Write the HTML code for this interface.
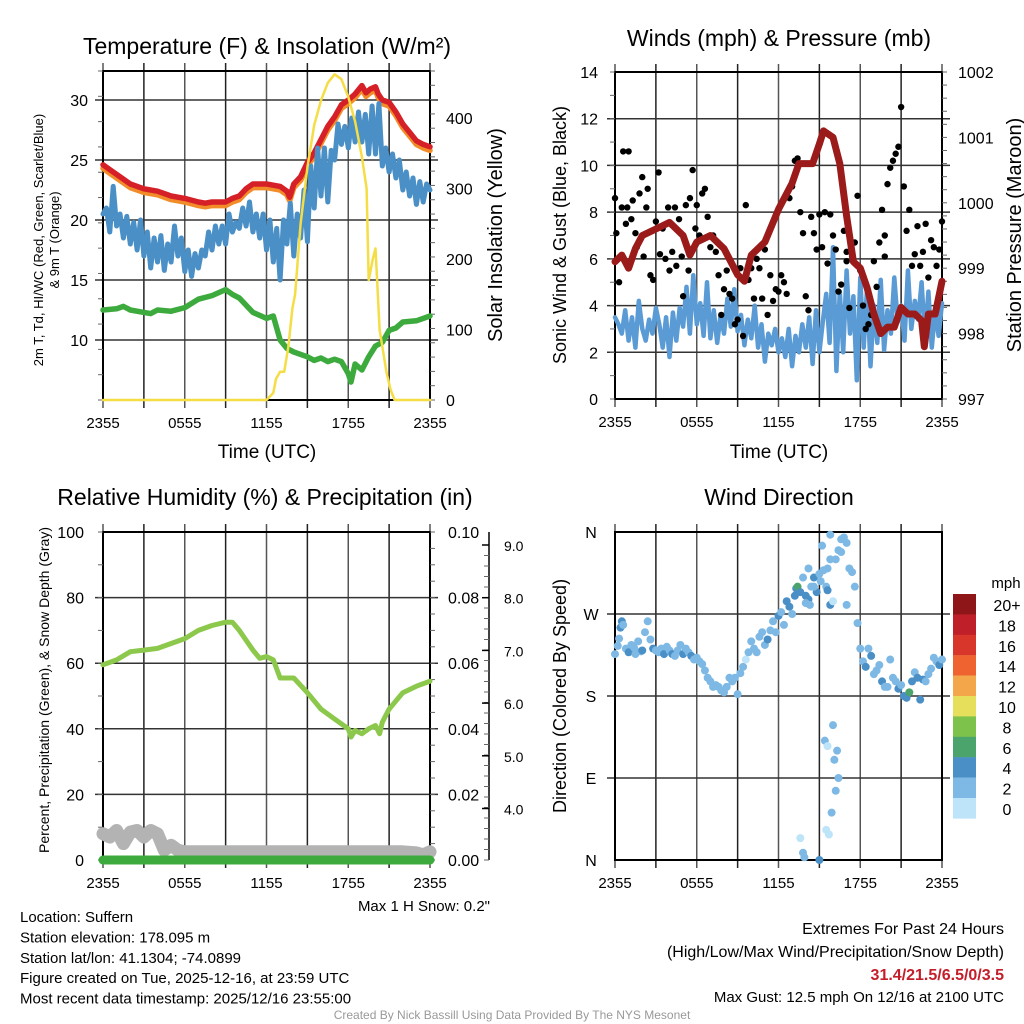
<!DOCTYPE html>
<html><head><meta charset="utf-8"><style>
body{margin:0;background:#fff}
svg{display:block;font-family:"Liberation Sans",Arial,sans-serif}
</style></head><body>
<svg id="s" width="1024" height="1024" viewBox="0 0 1024 1024"></svg>
<script>
// ---------- DATA ----------
const xTickLabels=["2355","0555","1155","1755","2355"];
const tempTickVals=[10,15,20,25,30];
const solarTickVals=[0,100,200,300,400];
const windTickVals=[0,2,4,6,8,10,12,14];
const presTickVals=[997,998,999,1000,1001,1002];
const rhTickVals=[0,20,40,60,80,100];
const precipTickLabels=["0.00","0.02","0.04","0.06","0.08","0.10"];
const snowTickVals=[4,5,6,7,8,9];
const dirTickLabels=["N","E","S","W","N"];
const cbarLabels=["20+","18","16","14","12","10","8","6","4","2","0"];
const cbarColors=["#8e1619","#bf1f29","#d8352b","#ee6330","#f4a64a","#e6df5b","#7cc24b","#4aa46b","#4a8fc6","#7db9e4","#bde4f8"];

const redT=[0,0.5,1,2,3,4,5,6,7,7.5,8,9,9.5,10,10.5,11,12,12.5,13,13.5,13.7,14,14.5,15,15.5,16,16.5,17,17.5,18,18.5,19,19.3,19.6,20,20.2,20.5,21,21.5,22,22.5,23,23.5,24];
const redV=[24.6,24.2,23.8,23.0,22.6,22.4,22.0,21.8,21.5,21.4,21.5,21.5,21.8,22.0,22.6,23.0,23.0,22.9,22.8,22.4,21.9,23.0,23.6,24.8,25.6,26.7,27.8,28.6,29.6,30.0,30.5,31.2,30.6,30.9,31.1,30.5,30.0,29.8,29.0,28.0,27.3,26.6,26.3,26.1];
const blueV=[20.5,21,19,22.8,19.5,20.5,18.5,20.3,18,19.8,17.5,20,17,19,16,18.5,16.5,18.7,15.8,18,16.5,19.5,17,18.5,15.7,17.5,15.3,17.2,16,17.5,17,19,17.5,19.5,18,19.5,18,20.5,19,19.8,19.3,21,19.5,21.5,19,20.5,18.5,20.5,17.5,20,16.5,19.3,15,20,18,21.4,17,20.5,18.5,22.5,18.2,24.5,21,26,22,26,21.5,25.8,25,28,26.3,27.8,26,28.5,26.5,29,26.5,28.8,25.5,29.5,25.5,29.7,24.5,26,24,25.5,23.5,25,22.5,24,22,23.5,21.3,23.2,21.5,23,22.5];
const dewT=[0,1,1.5,2,3,3.5,4,5,6,7,8,9,9.5,10,11,12,12.5,13,13.5,14,15,15.5,16,16.5,17,17.5,18,18.2,18.5,19,19.5,20,20.5,21,21.5,22,23,24];
const dewV=[12.5,12.6,12.8,12.5,12.3,12.2,12.5,12.4,12.7,13.4,13.7,14.2,13.8,13.5,12.3,11.8,12,10,9.3,9,8.6,8.3,8.5,8.2,8.4,8.2,7.2,6.5,8,7.5,8.6,9.5,9.8,10.8,11,11.5,11.6,12];
const solT=[0,12,12.5,12.7,13,13.3,13.6,13.9,14.1,14.5,15,15.5,16,16.5,17,17.5,18,18.5,19,19.35,19.5,19.8,20,20.3,20.8,21.1,21.4,22,24];
const solV=[0,0,10,30,40,40,75,130,150,250,330,390,425,450,462,455,430,395,345,300,170,200,215,100,40,15,0,0,0];

const windV=[3.5,3.2,2.8,3.8,2.5,3.5,2.2,4.2,3,2.5,3.4,2.8,3.9,3.2,2.2,3.5,1.8,3.7,2.5,3.9,3.1,4.8,2.8,5.3,3.2,4.1,2.7,5.0,2.6,3.8,2.4,3.6,2.8,4.3,3.1,4.7,2.9,3.6,2.3,3.4,2.6,4.0,2.2,3.2,1.6,2.8,2.3,3.0,2.0,2.6,1.8,3.0,1.4,2.7,2.0,3.2,2.2,3.5,1.5,3.8,2.0,3.3,4.5,2.4,6.5,1.2,4.6,2.0,5.5,2.8,4.4,0.8,5.2,2.2,4.8,1.4,4.0,2.4,5.1,2.1,3.8,2.8,5.2,3.3,4.0,2.5,5.5,3.0,4.2,3.4,5.0,2.6,4.6,2.2,3.8,2.7,4.1];
const presT=[0,0.5,1,1.5,2,3,4,5,5.5,6,7,8,9,9.5,10,11,12,13,13.5,14,14.5,15,15.3,16,16.5,17,17.5,18,18.5,19,19.5,20,20.5,21,21.5,22,22.5,22.7,23,23.5,23.8,24];
const presV=[999.1,999.2,999.0,999.3,999.5,999.6,999.7,999.5,999.2,999.4,999.5,999.3,998.9,998.8,999.2,999.4,999.9,1000.3,1000.6,1000.6,1000.6,1000.9,1001.1,1001.0,1000.6,999.8,999.1,999.0,998.7,998.3,998.0,998.1,998.1,998.4,998.3,998.3,998.2,997.8,998.3,998.3,998.6,998.8];
const gustT=[
0,0.1,0.3,0.5,0.6,0.8,0.9,1.0,1.2,1.3,
1.5,1.6,1.8,2.0,2.1,2.3,2.4,2.6,2.8,3.0,
3.2,3.3,3.5,3.7,3.9,4.0,4.2,4.4,4.5,4.7,
4.9,5.0,5.2,5.4,5.5,5.7,5.9,6.0,6.2,6.4,
6.6,6.8,7.0,7.2,7.4,7.6,7.8,8.0,8.2,8.4,
8.6,8.8,9.0,9.2,9.4,9.6,9.8,10.0,10.2,10.4,
10.6,10.8,11.0,11.2,11.4,11.6,11.8,12.0,12.2,12.4,
12.6,12.8,13.0,13.2,13.4,13.6,13.8,14.0,14.2,14.4,
14.6,14.8,15.0,15.2,15.4,15.6,15.8,16.0,16.2,16.4,
16.6,16.8,17.0,17.2,17.4,17.6,17.8,18.0,18.2,18.4,
18.6,18.8,19.0,19.2,19.4,19.6,19.8,20.0,20.2,20.4,
20.6,20.8,21.0,21.2,21.4,21.6,21.8,22.0,22.2,22.4,
22.6,22.8,23.0,23.2,23.4,23.6,23.8,24.0,19.8,17.0];
const gustV=[
8.6,7.1,5.0,8.2,10.6,7.5,8.2,10.6,7.7,8.5,
7.1,6.5,8.8,9.5,6.1,8.2,9.0,5.3,5.1,7.6,
9.7,6.2,7.3,6.0,8.2,5.5,6.3,8.2,5.7,7.7,
6.1,4.4,8.3,5.5,8.6,9.8,7.3,8.3,7.0,8.8,
9.0,7.8,6.5,7.0,6.3,5.3,3.6,4.7,5.5,4.5,
4.3,3.2,3.4,5.6,2.7,8.3,5.1,5.6,4.3,6.0,
5.6,4.3,6.4,3.6,5.3,4.2,4.7,4.6,5.3,5.0,
4.5,8.6,9.1,10.2,10.3,8.0,7.1,4.4,3.8,7.8,
7.1,6.4,7.9,6.5,8.0,5.8,7.9,7.0,6.4,4.6,
4.9,7.2,5.9,3.9,6.1,6.7,8.7,5.5,4.0,3.0,
3.2,3.6,5.9,4.8,6.7,8.1,6.1,9.2,9.9,10.2,
10.5,10.8,12.5,9.1,7.2,8.1,5.7,6.2,7.4,5.7,
6.3,7.5,5.2,6.8,6.5,5.7,6.4,7.6,7.0,6.3];

const dirT=[
0,0.2,0.3,0.4,0.5,0.6,0.8,1.0,1.2,1.4,
1.5,1.7,1.9,2.0,2.2,2.4,2.6,2.8,3.0,3.2,
3.4,3.6,3.8,4.0,4.2,4.4,4.6,4.8,5.0,5.2,
5.4,5.6,5.8,6.0,6.2,6.4,6.6,6.8,7.0,7.2,
7.4,7.6,7.8,8.0,8.2,8.4,8.6,8.8,9.0,9.2,
9.4,9.6,9.8,10.0,10.2,10.4,10.6,10.8,11.0,11.2,
11.4,11.6,11.8,12.0,12.2,12.4,12.6,12.8,13.0,13.2,
13.3,13.4,13.6,13.8,14.0,14.2,14.4,14.6,14.8,15.0,
15.1,15.3,15.5,15.6,15.8,16.0,16.2,16.4,16.6,16.8,
17.0,17.2,17.4,17.6,17.8,18.0,18.2,18.4,18.6,18.8,
19.0,19.2,19.4,19.6,19.8,20.0,20.2,20.4,20.6,20.8,
21.0,21.2,21.4,21.6,21.8,22.0,22.2,22.4,22.6,22.8,
23.0,23.2,23.4,23.6,23.8,24.0,14.0,14.3,15.6,15.8,
13.6,13.8,13.9,15.0,15.5,15.7,15.9,16.0,16.2,16.4,
15.4,15.6,16.1,16.3,15.2,15.8,16.6,14.2,14.6,17.0];
const dirV=[
226,235,243,255,262,258,232,228,236,233,
226,240,229,230,250,262,242,232,230,228,
232,226,234,230,226,224,230,236,226,232,
228,224,220,222,218,215,208,200,196,190,
192,190,186,184,190,200,196,200,182,205,
212,220,228,240,232,228,245,250,236,242,
252,262,250,268,272,258,284,278,270,290,
298,300,294,310,290,286,300,310,294,314,
306,318,300,296,280,284,330,340,352,354,
348,320,316,300,260,232,218,212,232,224,
204,208,214,196,190,190,220,200,196,188,
192,180,178,184,196,206,200,176,198,196,
204,210,222,218,214,220,282,280,320,330,
24,8,3,0,33,28,52,148,76,90,
131,125,110,120,345,357,338,320,300,280];
const dirS=[
3,3,3,4,4,2,3,4,3,3,
3,3,3,4,3,3,3,4,3,3,
3,4,3,3,4,3,3,3,4,3,
3,4,3,3,3,3,3,3,3,3,
3,3,3,3,3,3,3,3,3,3,
3,1,3,3,3,3,3,3,3,4,
3,3,3,4,3,3,4,4,3,4,
4,7,4,3,4,4,3,4,5,3,
3,3,3,4,4,1,3,3,3,3,
3,3,3,3,3,3,3,4,3,4,
3,3,3,5,3,3,3,3,3,4,
3,4,4,7,4,3,4,4,4,3,
3,3,3,3,4,3,3,3,3,3,
1,3,3,4,1,1,3,3,3,3,
3,1,3,3,3,3,3,3,3,3];

const rhT=[0,1,2,3,4,5,6,7,8,9,9.5,10,11,11.5,12,12.5,13,14,15,16,17,18,18.2,18.5,19,19.5,20,20.3,20.5,21,22,23,24];
const rhV=[59.5,61,63.5,64,64.5,66,67.5,70,71.5,72.5,72.5,70,64,61.5,62,61,55.5,55.5,51,46,43,40,37.5,39.5,38.5,40,41,38.5,42,46,51,53,54.5];
const snowT=[0,0.5,1,1.5,2,2.5,3,3.5,4,4.5,5,5.5,6,8,12,16,20,22,23,23.5,24];
const snowV=[8,7,9,5,8.5,9,7,9,8,3,4.5,3,2.5,2.5,2.5,2.5,2.5,2.5,2.2,1.6,2.5];
const precipT=[0,24];
const precipV=[0,0];

// ---------- HELPERS ----------
const S=document.getElementById('s');const NS='http://www.w3.org/2000/svg';
function mk(tag,attrs,parent){const e=document.createElementNS(NS,tag);for(const k in attrs)e.setAttribute(k,attrs[k]);(parent||S).appendChild(e);return e;}
function txt(str,x,y,size,anchor,extra){const t=mk('text',Object.assign({x:x,y:y,'font-size':size,'text-anchor':anchor||'middle',fill:'#000'},extra||{}));t.textContent=str;return t;}
function P(x0,x1,y0,y1,vmin,vmax){return {x:h=>x0+h/24*(x1-x0),y:v=>y1-(v-vmin)/(vmax-vmin)*(y1-y0),x0,x1,y0,y1};}
function line(p,ts,vs,scale,color,w,name){let d='';ts.forEach((t,i)=>{d+=(i?'L':'M')+p.x(t).toFixed(1)+' '+scale(vs[i]).toFixed(1);});const e=mk('path',{d:d,fill:'none',stroke:color,'stroke-width':w,'stroke-linejoin':'round','stroke-linecap':'round'});


return e;}
function frame(p,name,hgrid){
  const g=mk('g',{});
  
  
  for(let i=0;i<=8;i++){const x=p.x0+i*(p.x1-p.x0)/8;mk('line',{x1:x,x2:x,y1:p.y0-8,y2:p.y1+8,stroke:i%2?'#222':'#555','stroke-width':1.5},g);}
  hgrid.forEach(y=>mk('line',{x1:p.x0-8,x2:p.x1+8,y1:y,y2:y,stroke:'#333','stroke-width':1.5},g));
  mk('rect',{x:p.x0,y:p.y0,width:p.x1-p.x0,height:p.y1-p.y0,fill:'none',stroke:'#000','stroke-width':2},g);
  xTickLabels.forEach((l,i)=>{const t=txt(l,p.x0+i*(p.x1-p.x0)/4,p.y1+28,15);
  
  });
  return g;
}
function minor(x,y0,y1,n,dir){for(let i=0;i<=n;i++){const y=y0+i*(y1-y0)/n;mk('line',{x1:x,x2:x+dir*5,y1:y,y2:y,stroke:'#666','stroke-width':1});}}

// ---------- TITLES ----------
[["Temperature (F) & Insolation (W/m²)",267,54,"title-temperature"],["Winds (mph) & Pressure (mb)",779,46,"title-winds"],["Relative Humidity (%) & Precipitation (in)",265,505,"title-humidity"],["Wind Direction",779,505,"title-wind-direction"]].forEach(a=>{const t=txt(a[0],a[1],a[2],23);

});

// ---------- PANEL 1: TEMPERATURE ----------
const p1=P(103,430,71,400,5,5+329/12);
const sol=v=>400-v*(282/400);
frame(p1,'temperature-plot',tempTickVals.map(p1.y));
minor(103,71,400,13,-1);minor(430,71,400,23,1);
tempTickVals.forEach(v=>{txt(String(v),88,p1.y(v)+6,16,'end');});
solarTickVals.forEach(v=>{txt(String(v),446,sol(v)+6,16,'start');});
line(p1,redT,redV.map(v=>v-0.3),p1.y,'#f28c28',5.5,'temp-9m-orange-line');
line(p1,redT,redV,p1.y,'#d62027',5.5,'temp-2m-red-line');
line(p1,blueV.map((_,i)=>i*0.25),blueV,p1.y,'#4a8fc6',5,'windchill-blue-line');
line(p1,dewT,dewV,p1.y,'#3daa3d',5.5,'dewpoint-green-line');
line(p1,solT,solV,sol,'#f5dd45',2.5,'solar-insolation-line');
txt("Time (UTC)",267,458,19);
txt("2m T, Td, HI/WC (Red, Green, Scarlet/Blue)",0,0,13,'middle',{transform:'translate(43,240) rotate(-90)'});
txt("& 9m T (Orange)",0,0,13,'middle',{transform:'translate(59,240) rotate(-90)'});
txt("Solar Insolation (Yellow)",0,0,20,'middle',{transform:'translate(502,235) rotate(-90)'});

// ---------- PANEL 2: WINDS ----------
const p2=P(615,942,72,399,0,14);
const pr=v=>399-(v-997)*(327/5);
frame(p2,'winds-plot',[2,4,6,8,10,12].map(p2.y));
minor(615,72,399,14,-1);minor(942,72,399,25,1);
windTickVals.forEach(v=>txt(String(v),598,p2.y(v)+6,16,'end'));
presTickVals.forEach(v=>txt(String(v),958,pr(v)+6,16,'start'));
line(p2,windV.map((_,i)=>i*0.25),windV,p2.y,'#5b9bd5',4.5,'sonic-wind-blue-line');
gustT.forEach((t,i)=>{const c=mk('circle',{cx:p2.x(t),cy:p2.y(gustV[i]),r:3.2,fill:'#000'});

});
line(p2,presT,presV,pr,'#9b1b1b',7,'pressure-maroon-line');
txt("Time (UTC)",779,458,19);
txt("Sonic Wind & Gust (Blue, Black)",0,0,18,'middle',{transform:'translate(566,235) rotate(-90)'});
txt("Station Pressure (Maroon)",0,0,20,'middle',{transform:'translate(1021,235) rotate(-90)'});

// ---------- PANEL 3: HUMIDITY ----------
const p3=P(103,430,532,860,0,100);
frame(p3,'humidity-plot',[20,40,60,80].map(p3.y));
minor(103,532,860,10,-1);minor(430,532,860,20,1);
rhTickVals.forEach(v=>txt(String(v),84,p3.y(v)+6,16,'end'));
precipTickLabels.forEach((l,i)=>txt(l,448,p3.y(i*20)+6,16,'start'));
mk('line',{x1:489,x2:489,y1:532,y2:860,stroke:'#000','stroke-width':1.5});
const sn=v=>545-(v-9)*52.7;
minor(489,545,860,30,-1);
snowTickVals.forEach(v=>{mk('line',{x1:489,x2:482,y1:sn(v),y2:sn(v),stroke:'#000','stroke-width':1.5});txt(v.toFixed(1),504,sn(v)+6,14,'start');});
line(p3,snowT,snowV,p3.y,'#b3b3b3',13,'snow-depth-gray-line');
line(p3,precipT,precipV,p3.y,'#3daa3d',9,'precipitation-green-line');
line(p3,rhT,rhV,p3.y,'#8cc84b',5,'relative-humidity-line');
txt("Percent, Precipitation (Green), & Snow Depth (Gray)",0,0,14,'middle',{transform:'translate(49,690) rotate(-90)'});
txt('Max 1 H Snow: 0.2"',490,911,15,'end');

// ---------- PANEL 4: WIND DIRECTION ----------
const p4=P(615,942,532,860,0,360);
frame(p4,'wind-direction-plot',[90,180,270].map(p4.y));
dirTickLabels.forEach((l,i)=>txt(l,591,p4.y(i*90)+6,16,'middle'));
dirT.forEach((t,i)=>{const bin=Math.min(10,Math.floor(dirS[i]/2));const c=mk('circle',{cx:p4.x(t),cy:p4.y(dirV[i]),r:4,fill:cbarColors[10-bin]});

});
txt("Direction (Colored By Speed)",0,0,18,'middle',{transform:'translate(566,696) rotate(-90)'});
const cb=mk('g',{});


cbarColors.forEach((c,i)=>{mk('rect',{x:953,y:594+i*20.4,width:23,height:20.6,fill:c},cb);});
cbarLabels.forEach((l,i)=>{txt(l,1007,594+i*20.4+17,16,'middle');});
txt("mph",1006,588,15,'middle');

// ---------- FOOTER ----------
["Location: Suffern","Station elevation: 178.095 m","Station lat/lon: 41.1304; -74.0899","Figure created on Tue, 2025-12-16, at 23:59 UTC","Most recent data timestamp: 2025/12/16 23:55:00"].forEach((l,i)=>{const t=txt(l,20,922+i*20.4,15,'start');

});
txt("Extremes For Past 24 Hours",1004,934,16,'end');
txt("(High/Low/Max Wind/Precipitation/Snow Depth)",1004,957,16,'end');
{const t=txt("31.4/21.5/6.5/0/3.5",1004,980,16,'end',{fill:'#c41e2a','font-weight':'bold'});

}
txt("Max Gust: 12.5 mph On 12/16 at 2100 UTC",1004,1002,15,'end');
txt("Created By Nick Bassill Using Data Provided By The NYS Mesonet",512,1019,12,'middle',{fill:'#999'});
</script>
</body></html>
